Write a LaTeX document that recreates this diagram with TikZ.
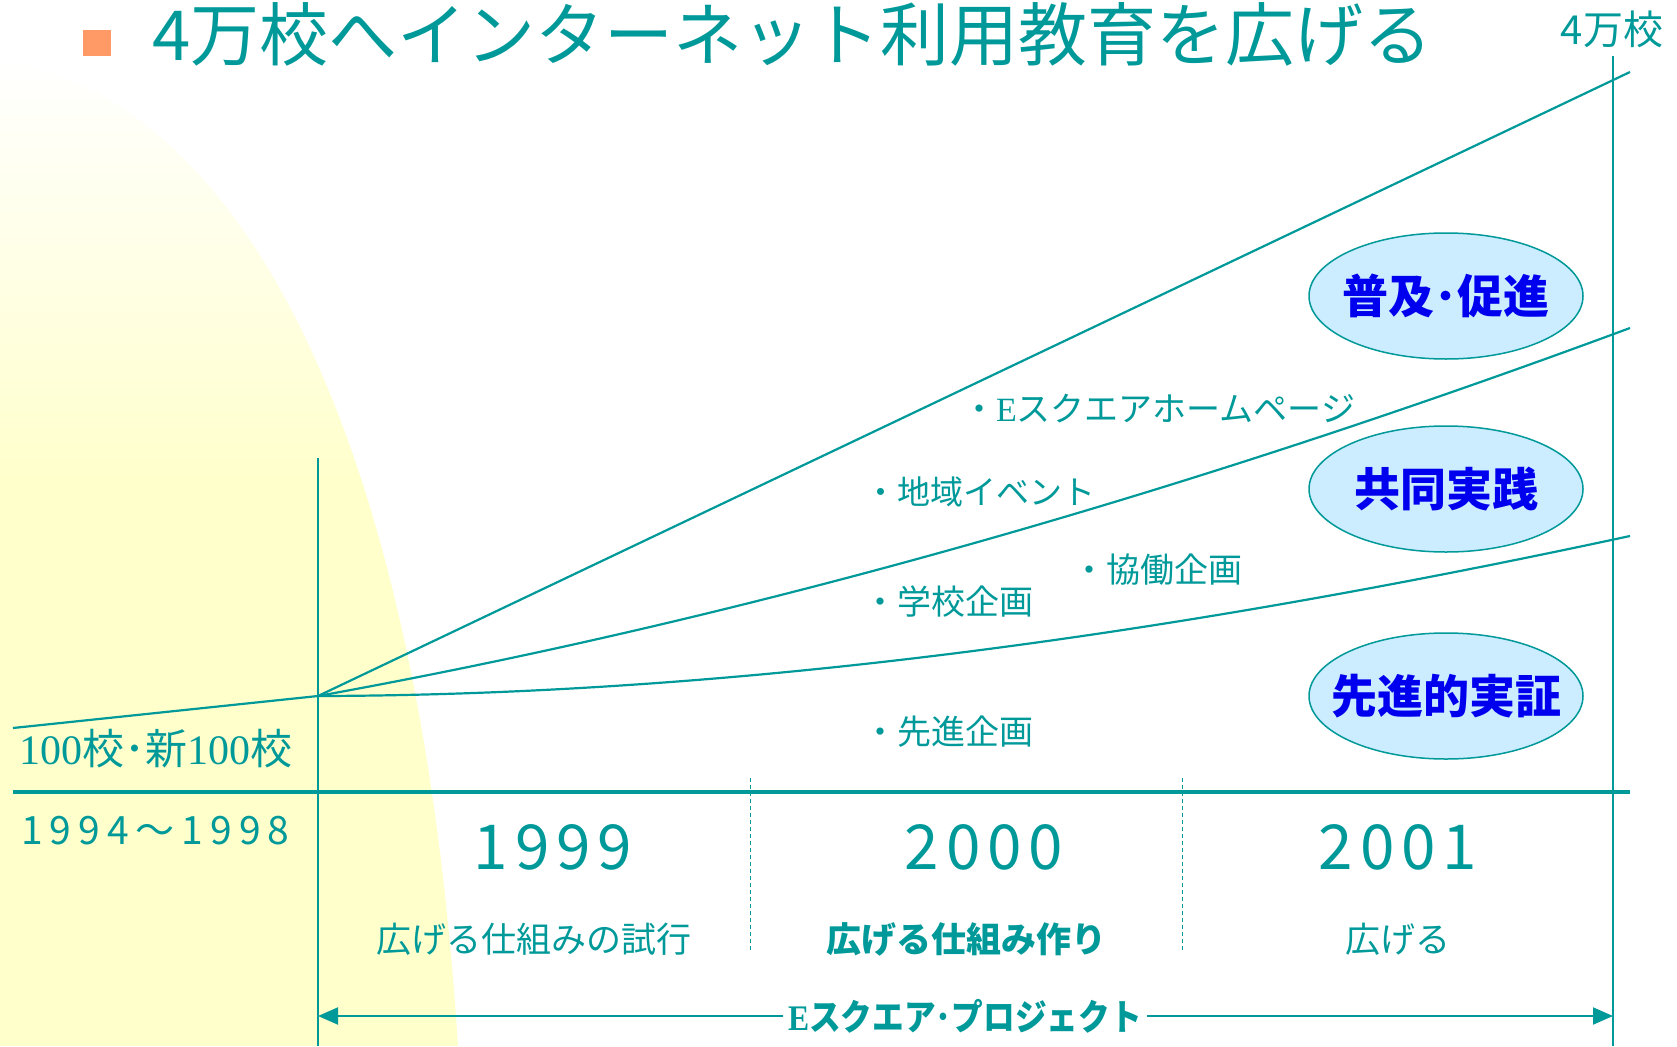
\documentclass[tikz,border=0pt]{standalone}
\usepackage{fontspec}
\usepackage{graphicx}
\setmainfont{Noto Sans CJK JP}
\newfontfamily\serifr{Liberation Serif}
\newfontfamily\yearfont[LetterSpace=11]{Noto Sans CJK JP}
\newfontfamily\rangefont[LetterSpace=18]{Noto Sans CJK JP}
\usetikzlibrary{arrows.meta,shapes.geometric}
\definecolor{teal1}{RGB}{0,153,153}
\definecolor{bgy}{RGB}{255,255,204}
\definecolor{ellfill}{RGB}{204,236,255}
\definecolor{sqc}{RGB}{255,153,102}
\definecolor{eblue}{RGB}{0,0,238}
\newcommand\myfs[1]{\fontsize{#1}{#1}\selectfont}
\begin{document}
\begin{tikzpicture}[x=1pt,y=-1pt,
  thinline/.style={draw=teal1,line width=1.5pt},
  growline/.style={draw=teal1,line width=2.2pt},
  dashline/.style={draw=teal1,line width=1pt,dash pattern=on 4pt off 3pt},
  ell/.style={ellipse,draw=teal1,line width=1.5pt,fill=ellfill,minimum width=274pt,minimum height=126pt,inner sep=0pt},
  elltext/.style={inner sep=0pt,text=eblue,font=\bfseries\myfs{46}},
  item/.style={anchor=west,inner sep=0pt,text=teal1,font=\myfs{34}},
  year/.style={inner sep=0pt,text=teal1,font=\yearfont\myfs{62}},
  phase/.style={inner sep=0pt,text=teal1,font=\myfs{35}},
  arr/.style={draw=teal1,line width=2pt,-{Triangle[length=20pt,width=17pt]}}
]
\useasboundingbox (0,0) rectangle (1677,1046);
% background glow
\begin{scope}
  \clip (0,60) .. controls (250,100) and (420,450) .. (458,1046) -- (0,1046) -- cycle;
  \shade[top color=white,bottom color=bgy] (0,60) rectangle (500,480);
  \fill[bgy] (0,479) rectangle (500,1046);
\end{scope}
% title
\node[fill=sqc,inner sep=0pt,minimum width=28pt,minimum height=26pt] (bullet) at (97,43) {};
\node[anchor=west,inner sep=0pt,text=teal1,font=\myfs{69}] (title) at (152,34) {4万校へインターネット利用教育を広げる};
\node[inner sep=0pt,text=teal1,font=\myfs{40}] (fourman) at (1612,29) {4万校};
% coordinates
\coordinate (O) at (318,696);
\coordinate (T) at (1630,72);
\coordinate (M) at (1630,328);
\coordinate (B) at (1630,536);
\coordinate (L) at (13,728);
\coordinate (axL) at (13,792);
\coordinate (axR) at (1630,792);
\coordinate (lvT) at (318,458);
\coordinate (lvB) at (318,1046);
\coordinate (rvT) at (1613,56);
\coordinate (rvB) at (1613,1046);
\coordinate (d1T) at (750,778);
\coordinate (d1B) at (750,952);
\coordinate (d2T) at (1182,778);
\coordinate (d2B) at (1182,952);
\coordinate (aL) at (318,1016);
\coordinate (aR) at (1613,1016);
% lines
\draw[thinline] (lvT) -- (lvB);
\draw[thinline] (rvT) -- (rvB);
\draw[draw=teal1,line width=4.5pt] (axL) -- (axR);
\draw[growline] (L) -- (O);
\draw[growline] (O) -- (T);
\draw[growline] (O) .. controls (755,617) and (1193,490) .. (M);
\draw[growline] (O) .. controls (755,695) and (1193,630) .. (B);
\draw[dashline] (d1T) -- (d1B);
\draw[dashline] (d2T) -- (d2B);
% ellipses
\node[ell] (e1) at (1446,296) {};
\node[ell] (e2) at (1446,489) {};
\node[ell] (e3) at (1446,696) {};
\node[elltext] (t1) at (e1.center) {普及･促進};
\node[elltext] (t2) at (e2.center) {共同実践};
\node[elltext] (t3) at (e3.center) {先進的実証};
% items
\node[item] (i1) at (962,409) {・{\serifr E}スクエアホームページ};
\node[item,font=\myfs{33}] (i2) at (864,492) {・地域イベント};
\node[item] (i3) at (1072,570) {・協働企画};
\node[item] (i4) at (863,602) {・学校企画};
\node[item] (i5) at (863,732) {・先進企画};
% left labels
\node[anchor=west,inner sep=0pt,text=teal1,font=\myfs{42}] (hundred) at (19,749) {{\serifr 100}校･新{\serifr 100}校};
\node[anchor=west,inner sep=0pt,text=teal1,font=\rangefont\myfs{39}] (range) at (21,831) {1994～1998};
% years
\node[year] (y1) at (553,847) {1999};
\node[year] (y2) at (984,847) {2000};
\node[year] (y3) at (1398,847) {2001};
% phases
\node[phase] (p1) at (534,939) {広げる仕組みの試行};
\node[phase,font=\bfseries\myfs{35}] (p2) at (966,939) {広げる仕組み作り};
\node[phase] (p3) at (1398,939) {広げる};
% project arrow
\node[fill=white,inner sep=5pt,text=teal1,font=\bfseries\myfs{36}] (proj) at (965,1016) {\scalebox{0.88}[1]{{\serifr\bfseries E}スクエア･プロジェクト}};
\draw[arr] (proj.west) -- (aL);
\draw[arr] (proj.east) -- (aR);
\end{tikzpicture}
\end{document}
